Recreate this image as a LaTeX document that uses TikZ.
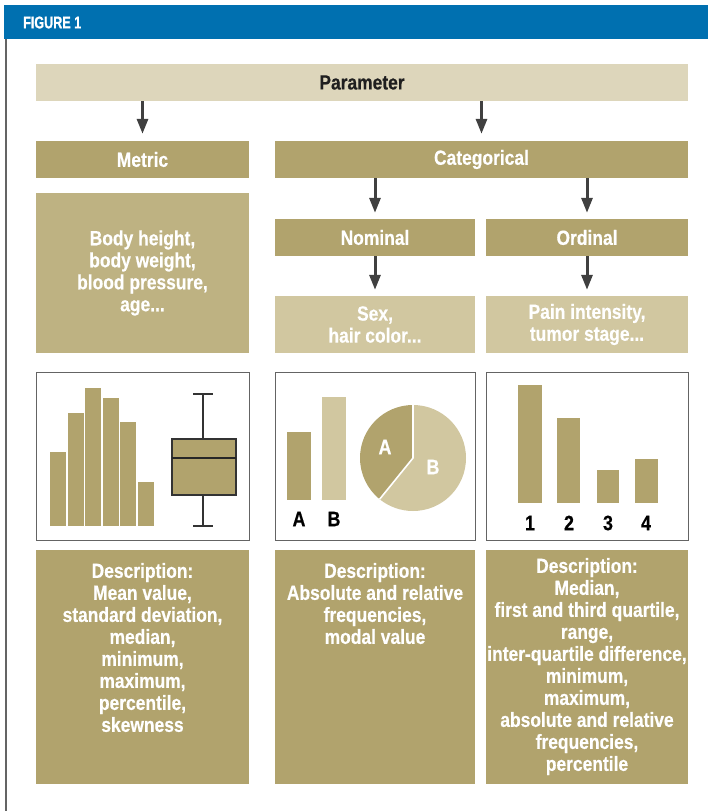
\documentclass[tikz,border=0pt]{standalone}
\usepackage{fontspec}
\setmainfont{Liberation Sans}[FakeStretch=0.85, BoldFeatures={FakeBold=0.4}]
\newfontfamily\figfont{Liberation Sans}[FakeStretch=0.74, BoldFeatures={FakeBold=0.8}]
\usetikzlibrary{arrows.meta}
\definecolor{bluehead}{RGB}{0,112,176}
\definecolor{olive}{RGB}{177,163,109}
\definecolor{olivemid}{RGB}{190,178,130}
\definecolor{olivelight}{RGB}{209,199,160}
\definecolor{beige}{RGB}{221,214,187}
\definecolor{arrowc}{RGB}{64,64,64}
\definecolor{framec}{RGB}{100,100,100}
\tikzset{
  box/.style={draw=none, inner sep=0pt, anchor=center},
  txt/.style={text=white, font=\fontsize{20.5}{22}\selectfont\bfseries, align=center, inner sep=0pt},
  arr/.style={draw=arrowc, line width=3pt, -{Triangle[width=11pt,length=15pt]}},
  chartframe/.style={draw=framec, line width=0.9pt, fill=white, inner sep=0pt},
  lbl/.style={text=black, font=\fontsize{21}{22}\selectfont\bfseries, inner sep=0pt},
  plbl/.style={text=white, font=\fontsize{21}{22}\selectfont\bfseries, inner sep=0pt}
}
\begin{document}
\begin{tikzpicture}[x=1pt, y=-1pt]
\useasboundingbox[fill=white] (0,0) rectangle (708,811);
% header band
\fill[bluehead] (4,5) rectangle (708,39);
\node[anchor=west, text=white, font=\fontsize{17}{18}\figfont\bfseries, inner sep=0pt] (fig) at (23,22.5) {FIGURE 1};
\draw[framec, line width=1.2pt] (6,39) -- (6,811);

% top level
\node[box, fill=beige, minimum width=652pt, minimum height=37pt] (param) at (362,82.5) {};
\node[txt, text=black!88] (paramt) at (param.center) {Parameter};

\node[box, fill=olive, minimum width=213pt, minimum height=37pt] (metric) at (142.5,159.5) {};
\node[txt] (metrict) at (metric.center) {Metric};
\node[box, fill=olive, minimum width=413pt, minimum height=37pt] (categ) at (481.5,159.5) {};
\node[txt] (categt) at (categ.center) {Categorical};

\node[box, fill=olivemid, minimum width=213pt, minimum height=160pt] (mex) at (142.5,273) {};
\node[txt] (mext) at (mex.center) {Body height,\\body weight,\\blood pressure,\\age...};

\node[box, fill=olive, minimum width=200pt, minimum height=37pt] (nom) at (375,237.5) {};
\node[txt] (nomt) at (nom.center) {Nominal};
\node[box, fill=olive, minimum width=202pt, minimum height=37pt] (ord) at (587,237.5) {};
\node[txt] (ordt) at (ord.center) {Ordinal};

\node[box, fill=olivelight, minimum width=200pt, minimum height=57pt] (nex) at (375,324.5) {};
\node[txt] (next) at (nex.center) {Sex,\\hair color...};
\node[box, fill=olivelight, minimum width=202pt, minimum height=57pt] (oex) at (587,324.5) {};
\node[txt] (oext) at (oex.center) {Pain intensity,\\tumor stage...};

% arrows
\draw[arr] (param.south -| metric.north) -- ([yshift=7pt]metric.north);
\draw[arr] (param.south -| categ.north) -- ([yshift=7pt]categ.north -| categ.north);
\draw[arr] (categ.south -| nom.north) -- ([yshift=6pt]nom.north);
\draw[arr] (categ.south -| ord.north) -- ([yshift=6pt]ord.north);
\draw[arr] (nom.south) -- ([yshift=6pt]nex.north);
\draw[arr] (ord.south) -- ([yshift=6pt]oex.north);

% chart frames
\node[chartframe, minimum width=213pt, minimum height=168pt] (mchart) at (142.5,456) {};
\node[chartframe, minimum width=200pt, minimum height=168pt] (nchart) at (375,456) {};
\node[chartframe, minimum width=202pt, minimum height=168pt] (ochart) at (587,456) {};

% histogram
\fill[olive] (50,452) rectangle (66,526);
\fill[olive] (67.5,413) rectangle (83.5,526);
\fill[olive] (85,388) rectangle (101,526);
\fill[olive] (102.5,398) rectangle (118.5,526);
\fill[olive] (120,422) rectangle (136,526);
\fill[olive] (137.5,482) rectangle (153.5,526);
% boxplot
\draw[black!80, line width=2.6pt] (203,394) -- (203,439);
\draw[black!80, line width=2.6pt] (203,495) -- (203,526);
\draw[black!80, line width=2.6pt] (193,394) -- (213,394);
\draw[black!80, line width=2.6pt] (193,526) -- (213,526);
\draw[black!80, line width=1.3pt, fill=olive] (172,439) rectangle (236,495);
\draw[black!85, line width=2.6pt] (172,458) -- (236,458);

% nominal bars
\fill[olive] (287,432) rectangle (311,500);
\fill[olivelight] (322,397) rectangle (346,500);
\node[lbl] (la) at (299,519) {A};
\node[lbl] (lb) at (334,519) {B};
% pie
\begin{scope}[shift={(413,458)}, yscale=-1]
  \fill[olivelight] (0,0) -- (90:53) arc (90:-129:53) -- cycle;
  \fill[olive] (0,0) -- (90:53) arc (90:231:53) -- cycle;
  \draw[white, line width=1.6pt] (90:53) -- (0,0) -- (231:53);
\end{scope}
\node[plbl] (pa) at (385,447) {A};
\node[plbl] (pb) at (433,467) {B};

% ordinal bars
\fill[olive] (518,385) rectangle (542,503);
\fill[olive] (557,418) rectangle (580,503);
\fill[olive] (597,470) rectangle (619,503);
\fill[olive] (635,459) rectangle (658,503);
\node[lbl] (l1) at (530,523) {1};
\node[lbl] (l2) at (569,523) {2};
\node[lbl] (l3) at (608,523) {3};
\node[lbl] (l4) at (646,523) {4};

% description boxes
\node[box, fill=olive, minimum width=213pt, minimum height=234pt] (mdesc) at (142.5,667) {};
\node[txt, anchor=north] (mdesct) at ([yshift=-13pt]mdesc.north) {Description:\\Mean value,\\standard deviation,\\median,\\minimum,\\maximum,\\percentile,\\skewness};
\node[box, fill=olive, minimum width=200pt, minimum height=234pt] (ndesc) at (375,667) {};
\node[txt, anchor=north] (ndesct) at ([yshift=-13pt]ndesc.north) {Description:\\Absolute and relative\\frequencies,\\modal value};
\node[box, fill=olive, minimum width=202pt, minimum height=234pt] (odesc) at (587,667) {};
\node[txt, anchor=north] (odesct) at ([yshift=-8pt]odesc.north) {Description:\\Median,\\first and third quartile,\\range,\\inter-quartile difference,\\minimum,\\maximum,\\absolute and relative\\frequencies,\\percentile};
\end{tikzpicture}
\end{document}
